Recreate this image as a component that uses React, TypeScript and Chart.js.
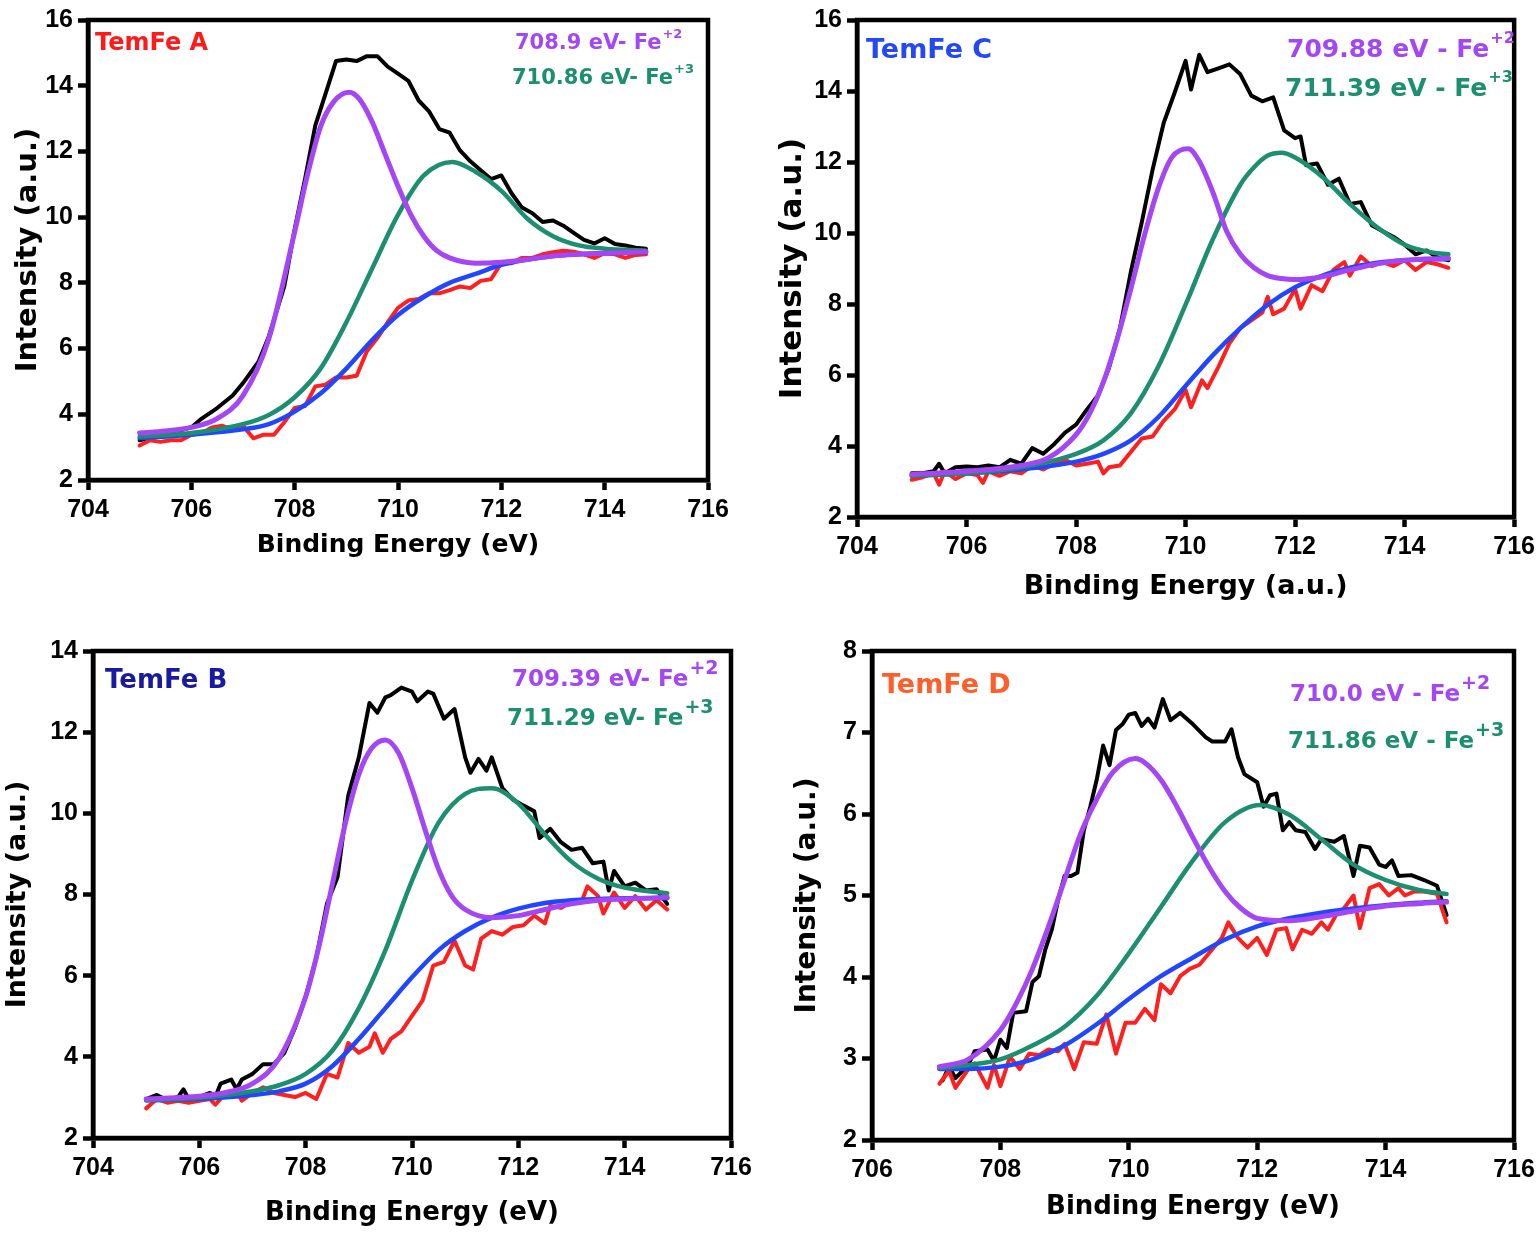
import React, { useEffect, useRef } from 'react';
import { Chart, registerables } from 'chart.js';

Chart.register(...registerables);

type Pt = [number, number];

// ---------- Panel A (TemFe A) ----------
const A_ENVELOPE: Pt[] = [[705.0,3.21],[705.5,3.38],[706.0,3.6],[706.2,3.87],[706.5,4.19],[706.8,4.57],[707.0,4.95],[707.3,5.6],[707.5,6.37],[707.8,7.9],[708.0,9.63],[708.2,11.16],[708.4,12.79],[708.6,13.77],[708.8,14.75],[709.0,14.8],[709.2,14.75],[709.4,14.9],[709.6,14.9],[709.8,14.58],[710.0,14.37],[710.2,14.15],[710.4,13.55],[710.6,13.22],[710.8,12.68],[711.0,12.57],[711.2,12.03],[711.4,11.7],[711.6,11.43],[711.8,11.16],[712.0,11.27],[712.2,10.72],[712.4,10.29],[712.6,10.12],[712.8,9.85],[713.0,9.9],[713.2,9.74],[713.4,9.52],[713.6,9.31],[713.8,9.2],[714.0,9.36],[714.2,9.18],[714.4,9.14],[714.6,9.07],[714.8,9.04]];
const A_RESIDUAL: Pt[] = [[705.0,3.05],[705.2,3.21],[705.4,3.16],[705.6,3.21],[705.8,3.21],[706.0,3.38],[706.2,3.43],[706.4,3.6],[706.6,3.65],[706.8,3.54],[707.0,3.65],[707.2,3.27],[707.4,3.38],[707.6,3.38],[707.8,3.76],[708.0,4.19],[708.2,4.25],[708.4,4.85],[708.6,4.9],[708.8,5.12],[709.0,5.12],[709.2,5.17],[709.4,5.93],[709.6,6.32],[709.8,6.8],[710.0,7.24],[710.2,7.46],[710.4,7.51],[710.6,7.68],[710.8,7.68],[711.0,7.78],[711.2,7.89],[711.4,7.84],[711.6,8.06],[711.8,8.11],[712.0,8.6],[712.2,8.6],[712.4,8.76],[712.6,8.76],[712.8,8.87],[713.0,8.93],[713.2,8.98],[713.4,8.95],[713.6,8.87],[713.8,8.76],[714.0,8.9],[714.2,8.87],[714.4,8.76],[714.6,8.85],[714.8,8.87]];
const A_BACKGROUND: Pt[] = [[705.0,3.27],[706.0,3.38],[707.0,3.54],[707.5,3.7],[708.0,4.08],[708.5,4.63],[709.0,5.39],[709.5,6.26],[710.0,7.02],[710.5,7.57],[711.0,8.0],[711.5,8.27],[712.0,8.55],[712.5,8.71],[713.0,8.82],[713.5,8.87],[714.0,8.9],[714.8,8.93]];
const A_FE2: Pt[] = [[705.0,3.43],[705.5,3.49],[706.0,3.6],[706.5,3.87],[707.0,4.57],[707.5,6.3],[708.0,9.55],[708.25,11.3],[708.5,12.75],[708.75,13.5],[709.05,13.8],[709.25,13.6],[709.5,12.9],[709.75,11.92],[710.0,10.94],[710.25,10.07],[710.5,9.42],[710.75,8.98],[711.0,8.76],[711.5,8.6],[712.0,8.63],[712.5,8.71],[713.0,8.82],[713.5,8.87],[714.0,8.9],[714.8,8.95]];
const A_FE3: Pt[] = [[705.0,3.32],[706.0,3.43],[707.0,3.7],[707.5,3.98],[708.0,4.52],[708.5,5.39],[709.0,6.8],[709.5,8.44],[710.0,10.07],[710.5,11.27],[711.05,11.68],[711.5,11.38],[712.0,10.8],[712.5,9.96],[713.0,9.42],[713.5,9.14],[714.0,9.04],[714.8,8.98]];

// ---------- Panel C (TemFe C) ----------
const C_ENVELOPE: Pt[] = [[705.0,3.23],[705.2,3.23],[705.4,3.29],[705.5,3.5],[705.6,3.23],[705.8,3.4],[706.0,3.42],[706.2,3.4],[706.4,3.45],[706.6,3.4],[706.8,3.61],[707.0,3.5],[707.2,3.94],[707.4,3.78],[707.6,4.05],[707.8,4.38],[708.0,4.6],[708.2,5.03],[708.4,5.42],[708.6,6.2],[708.8,7.3],[709.0,8.9],[709.2,10.3],[709.4,11.8],[709.6,13.1],[709.8,13.95],[710.0,14.85],[710.1,14.04],[710.25,15.02],[710.4,14.53],[710.6,14.64],[710.8,14.75],[711.0,14.47],[711.2,13.87],[711.4,13.71],[711.6,13.82],[711.8,12.89],[712.0,12.67],[712.1,12.72],[712.2,11.91],[712.4,11.96],[712.6,11.36],[712.8,11.53],[713.0,10.82],[713.2,10.87],[713.4,10.22],[713.6,10.05],[713.8,9.89],[714.0,9.67],[714.2,9.4],[714.4,9.51],[714.6,9.31],[714.8,9.23]];
const C_RESIDUAL: Pt[] = [[705.0,3.05],[705.2,3.12],[705.4,3.23],[705.5,2.91],[705.6,3.29],[705.8,3.07],[706.0,3.23],[706.2,3.18],[706.3,2.96],[706.4,3.29],[706.6,3.16],[706.8,3.29],[707.0,3.23],[707.2,3.45],[707.4,3.34],[707.6,3.5],[707.8,3.61],[708.0,3.45],[708.2,3.5],[708.4,3.56],[708.5,3.23],[708.6,3.4],[708.8,3.45],[709.0,3.83],[709.2,4.21],[709.4,4.27],[709.6,4.71],[709.8,5.03],[710.0,5.58],[710.1,5.09],[710.3,5.85],[710.4,5.63],[710.6,6.23],[710.8,6.89],[711.0,7.32],[711.2,7.54],[711.4,7.76],[711.5,8.2],[711.6,7.71],[711.8,7.87],[712.0,8.42],[712.1,7.87],[712.3,8.53],[712.5,8.36],[712.7,8.96],[712.9,9.18],[713.0,8.8],[713.2,9.34],[713.4,9.07],[713.6,9.18],[713.8,9.07],[714.0,9.23],[714.2,8.96],[714.4,9.18],[714.6,9.12],[714.8,9.02]];
const C_BACKGROUND: Pt[] = [[705.0,3.16],[706.0,3.23],[707.0,3.34],[708.0,3.56],[708.5,3.78],[709.0,4.16],[709.5,4.81],[710.0,5.69],[710.5,6.56],[711.0,7.32],[711.5,7.98],[712.0,8.47],[712.5,8.8],[713.0,9.02],[713.5,9.16],[714.0,9.23],[714.8,9.27]];
const C_FE2: Pt[] = [[705.0,3.2],[706.0,3.29],[707.0,3.45],[707.5,3.67],[708.0,4.32],[708.25,4.92],[708.5,5.8],[708.75,7.0],[709.0,8.42],[709.25,9.94],[709.5,11.25],[709.75,12.13],[710.05,12.37],[710.25,12.02],[710.5,11.14],[710.75,10.05],[711.0,9.4],[711.25,9.02],[711.5,8.8],[711.75,8.72],[712.0,8.69],[712.5,8.77],[713.0,8.96],[713.5,9.13],[714.0,9.23],[714.8,9.29]];
const C_FE3: Pt[] = [[705.0,3.16],[706.0,3.23],[707.0,3.4],[708.0,3.78],[708.5,4.16],[709.0,4.92],[709.5,6.23],[710.0,7.98],[710.5,9.83],[711.0,11.36],[711.25,11.85],[711.5,12.18],[711.75,12.26],[712.0,12.13],[712.5,11.58],[713.0,10.82],[713.5,10.16],[714.0,9.67],[714.5,9.45],[714.8,9.4]];

// ---------- Panel B (TemFe B) ----------
const B_ENVELOPE: Pt[] = [[705.0,2.96],[705.2,3.06],[705.4,2.93],[705.6,3.01],[705.7,3.2],[705.8,2.96],[706.0,3.01],[706.2,3.11],[706.3,3.01],[706.4,3.34],[706.6,3.44],[706.7,3.2],[706.8,3.44],[707.0,3.58],[707.2,3.82],[707.4,3.82],[707.6,4.1],[707.8,4.72],[708.0,5.48],[708.2,6.44],[708.4,7.77],[708.6,8.43],[708.8,10.43],[709.0,11.38],[709.2,12.72],[709.35,12.48],[709.5,12.86],[709.6,12.91],[709.8,13.1],[710.0,13.0],[710.1,12.76],[710.3,13.0],[710.4,12.95],[710.6,12.33],[710.8,12.57],[711.0,11.38],[711.1,11.0],[711.25,11.34],[711.4,11.05],[711.5,11.38],[711.7,10.62],[711.9,10.34],[712.1,10.19],[712.3,10.05],[712.4,9.39],[712.6,9.62],[712.8,9.29],[713.0,9.1],[713.2,9.15],[713.4,8.77],[713.6,8.81],[713.7,8.1],[713.8,8.58],[714.0,8.2],[714.2,8.29],[714.4,8.1],[714.6,8.13],[714.8,7.77]];
const B_RESIDUAL: Pt[] = [[705.0,2.73],[705.2,2.96],[705.4,2.87],[705.6,2.92],[705.8,2.87],[706.0,2.92],[706.2,2.96],[706.3,2.82],[706.5,3.11],[706.7,3.15],[706.8,2.92],[707.0,3.11],[707.2,3.25],[707.4,3.11],[707.6,3.06],[707.8,3.01],[708.0,3.11],[708.2,2.96],[708.4,3.58],[708.6,3.49],[708.8,4.34],[709.0,4.1],[709.2,4.25],[709.3,4.58],[709.45,4.1],[709.6,4.44],[709.8,4.63],[710.0,5.01],[710.2,5.39],[710.4,6.25],[710.6,6.34],[710.8,6.86],[711.0,6.25],[711.15,6.15],[711.3,6.91],[711.5,7.1],[711.7,7.01],[711.9,7.2],[712.1,7.24],[712.3,7.48],[712.5,7.29],[712.6,7.72],[712.8,7.67],[713.0,7.82],[713.2,7.86],[713.3,8.2],[713.5,7.96],[713.6,7.53],[713.8,8.05],[714.0,7.67],[714.2,7.96],[714.4,7.63],[714.6,7.86],[714.8,7.63]];
const B_BACKGROUND: Pt[] = [[705.0,2.93],[706.0,2.96],[707.0,3.06],[707.5,3.15],[708.0,3.34],[708.5,3.77],[709.0,4.44],[709.5,5.2],[710.0,5.96],[710.5,6.63],[711.0,7.1],[711.5,7.43],[712.0,7.65],[712.5,7.79],[713.0,7.86],[713.5,7.89],[714.0,7.91],[714.8,7.91]];
const B_FE2: Pt[] = [[705.0,2.96],[706.0,3.03],[706.5,3.12],[707.0,3.34],[707.5,3.96],[708.0,5.48],[708.25,6.72],[708.5,8.24],[708.75,9.77],[709.0,10.96],[709.25,11.62],[709.5,11.81],[709.75,11.48],[710.0,10.62],[710.25,9.58],[710.5,8.62],[710.75,7.96],[711.0,7.63],[711.5,7.43],[712.0,7.48],[712.5,7.63],[713.0,7.77],[713.5,7.86],[714.0,7.89],[714.8,7.93]];
const B_FE3: Pt[] = [[705.0,2.93],[706.0,2.99],[707.0,3.15],[707.5,3.3],[708.0,3.58],[708.5,4.15],[709.0,5.2],[709.5,6.63],[710.0,8.34],[710.5,9.77],[711.0,10.48],[711.5,10.62],[712.0,10.24],[712.5,9.48],[713.0,8.81],[713.5,8.39],[714.0,8.17],[714.8,8.03]];

// ---------- Panel D (TemFe D) ----------
const D_ENVELOPE: Pt[] = [[707.1,2.73],[707.2,2.9],[707.3,2.76],[707.5,2.92],[707.6,3.09],[707.8,3.11],[707.9,2.97],[708.0,3.23],[708.1,3.13],[708.2,3.56],[708.4,3.58],[708.5,3.94],[708.6,4.01],[708.7,4.34],[708.8,4.58],[708.9,4.95],[709.0,5.24],[709.1,5.24],[709.2,5.28],[709.3,5.8],[709.4,6.09],[709.5,6.42],[709.6,6.84],[709.7,6.6],[709.8,7.03],[709.9,7.1],[710.0,7.22],[710.1,7.24],[710.2,7.08],[710.3,7.17],[710.4,7.06],[710.53,7.41],[710.65,7.15],[710.8,7.24],[711.0,7.1],[711.2,6.94],[711.3,6.89],[711.5,6.89],[711.6,7.04],[711.7,6.7],[711.8,6.49],[712.0,6.39],[712.1,6.09],[712.2,6.23],[712.3,6.25],[712.4,5.8],[712.5,5.9],[712.6,5.8],[712.75,5.78],[712.9,5.57],[713.0,5.69],[713.2,5.66],[713.35,5.73],[713.5,5.24],[713.6,5.61],[713.75,5.59],[713.9,5.38],[714.0,5.35],[714.1,5.43],[714.2,5.24],[714.4,5.25],[714.6,5.19],[714.8,5.12],[714.95,4.76]];
const D_RESIDUAL: Pt[] = [[707.05,2.69],[707.2,2.85],[707.3,2.64],[707.5,2.87],[707.6,2.94],[707.8,2.64],[707.9,2.92],[708.0,2.66],[708.15,3.02],[708.3,2.87],[708.45,3.06],[708.6,3.04],[708.75,3.11],[708.9,3.09],[709.0,3.18],[709.15,2.87],[709.3,3.2],[709.5,3.18],[709.65,3.54],[709.8,3.06],[709.95,3.44],[710.1,3.44],[710.25,3.61],[710.4,3.47],[710.5,3.91],[710.65,3.8],[710.8,4.01],[710.95,4.1],[711.1,4.15],[711.3,4.34],[711.45,4.48],[711.55,4.67],[711.7,4.48],[711.85,4.36],[712.0,4.48],[712.15,4.27],[712.3,4.58],[712.45,4.6],[712.55,4.34],[712.7,4.58],[712.85,4.53],[713.0,4.67],[713.1,4.58],[713.25,4.79],[713.35,4.84],[713.5,5.0],[713.6,4.6],[713.75,5.09],[713.9,5.14],[714.05,5.0],[714.2,5.09],[714.3,5.0],[714.45,5.05],[714.6,5.05],[714.8,5.02],[714.95,4.67]];
const D_BACKGROUND: Pt[] = [[707.05,2.87],[707.5,2.87],[708.0,2.9],[708.5,2.99],[709.0,3.16],[709.5,3.42],[710.0,3.73],[710.5,4.01],[711.0,4.24],[711.5,4.46],[712.0,4.62],[712.5,4.72],[713.0,4.79],[713.5,4.84],[714.0,4.88],[714.5,4.91],[714.95,4.93]];
const D_FE2: Pt[] = [[707.05,2.9],[707.5,2.99],[708.0,3.35],[708.25,3.68],[708.5,4.1],[708.75,4.62],[709.0,5.19],[709.25,5.76],[709.5,6.18],[709.75,6.51],[710.1,6.68],[710.25,6.63],[710.5,6.42],[710.75,6.09],[711.0,5.71],[711.25,5.35],[711.5,5.05],[711.75,4.84],[712.0,4.72],[712.5,4.69],[713.0,4.74],[713.5,4.81],[714.0,4.87],[714.5,4.9],[714.95,4.92]];
const D_FE3: Pt[] = [[707.05,2.88],[707.5,2.92],[708.0,2.99],[708.5,3.16],[709.0,3.39],[709.5,3.77],[710.0,4.29],[710.5,4.86],[711.0,5.43],[711.5,5.9],[712.05,6.11],[712.5,5.99],[713.0,5.69],[713.5,5.38],[714.0,5.19],[714.5,5.07],[714.95,5.02]];

// axis ranges / tick steps
const A_X = [704, 716, 2]; const A_Y = [2, 16, 2];
const C_X = [704, 716, 2]; const C_Y = [2, 16, 2];
const B_X = [704, 716, 2]; const B_Y = [2, 14, 2];
const D_X = [706, 716, 2]; const D_Y = [2, 8, 1];

const X_TITLE_EV = 'Binding Energy (eV)';
const X_TITLE_AU = 'Binding Energy (a.u.)';
const Y_TITLE = 'Intensity (a.u.)';

const COL = {
  env: '#000000',
  res: '#ff1f1f',
  bg: '#2146ff',
  fe2: '#a446f6',
  fe3: '#1b8f70',
};

const TITLE_FONT = '"DejaVu Sans", sans-serif';
const TICK_FONT = '"Liberation Sans", Arial, sans-serif';

type Label = { text: string; sup?: string; x: number; cy: number; color: string; size: number; supSize?: number };

type PanelCfg = {
  box: { x: number; y: number; w: number; h: number };
  area: { l: number; t: number; r: number; b: number }; // page coords of plot area
  xr: number[]; yr: number[];
  xTitle: string; xSize: number; xCenter: number;
  ySize: number; yCenter: number;
  series: { env: Pt[]; res: Pt[]; bg: Pt[]; fe2: Pt[]; fe3: Pt[] };
  labels: Label[];
};

const PANELS: PanelCfg[] = [
  {
    box: { x: 0, y: 0, w: 770, h: 575 },
    area: { l: 88, t: 15, r: 708, b: 480 },
    xr: A_X, yr: A_Y, xTitle: X_TITLE_EV, xSize: 25, xCenter: 545, ySize: 29, yCenter: 28,
    series: { env: A_ENVELOPE, res: A_RESIDUAL, bg: A_BACKGROUND, fe2: A_FE2, fe3: A_FE3 },
    labels: [
      { text: 'TemFe A', x: 95, cy: 42, color: '#ff1a1a', size: 24 },
      { text: '708.9 eV- Fe', sup: '+2', x: 515, cy: 43, color: COL.fe2, size: 21, supSize: 13 },
      { text: '710.86 eV- Fe', sup: '+3', x: 512, cy: 78, color: COL.fe3, size: 21, supSize: 13 },
    ],
  },
  {
    box: { x: 770, y: 0, w: 770, h: 610 },
    area: { l: 857, t: 17, r: 1519, b: 517 },
    xr: C_X, yr: C_Y, xTitle: X_TITLE_AU, xSize: 27, xCenter: 587, ySize: 31, yCenter: 793,
    series: { env: C_ENVELOPE, res: C_RESIDUAL, bg: C_BACKGROUND, fe2: C_FE2, fe3: C_FE3 },
    labels: [
      { text: 'TemFe C', x: 866, cy: 49, color: '#2448f5', size: 27 },
      { text: '709.88 eV - Fe', sup: '+2', x: 1287, cy: 49, color: COL.fe2, size: 25, supSize: 16 },
      { text: '711.39 eV - Fe', sup: '+3', x: 1285, cy: 88, color: COL.fe3, size: 25, supSize: 16 },
    ],
  },
  {
    box: { x: 0, y: 610, w: 770, h: 625 },
    area: { l: 93, t: 651, r: 731, b: 1138 },
    xr: B_X, yr: B_Y, xTitle: X_TITLE_EV, xSize: 26, xCenter: 1213, ySize: 27, yCenter: 18,
    series: { env: B_ENVELOPE, res: B_RESIDUAL, bg: B_BACKGROUND, fe2: B_FE2, fe3: B_FE3 },
    labels: [
      { text: 'TemFe B', x: 105, cy: 680, color: '#1a1aa0', size: 26 },
      { text: '709.39 eV- Fe', sup: '+2', x: 512, cy: 679, color: COL.fe2, size: 23, supSize: 19 },
      { text: '711.29 eV- Fe', sup: '+3', x: 507, cy: 718, color: COL.fe3, size: 23, supSize: 19 },
    ],
  },
  {
    box: { x: 770, y: 610, w: 770, h: 625 },
    area: { l: 872, t: 651, r: 1514, b: 1140 },
    xr: D_X, yr: D_Y, xTitle: X_TITLE_EV, xSize: 26, xCenter: 1207, ySize: 28, yCenter: 808,
    series: { env: D_ENVELOPE, res: D_RESIDUAL, bg: D_BACKGROUND, fe2: D_FE2, fe3: D_FE3 },
    labels: [
      { text: 'TemFe D', x: 882, cy: 684, color: '#ff5e2a', size: 27 },
      { text: '710.0 eV - Fe', sup: '+2', x: 1290, cy: 694, color: COL.fe2, size: 23, supSize: 19 },
      { text: '711.86 eV - Fe', sup: '+3', x: 1288, cy: 741, color: COL.fe3, size: 23, supSize: 19 },
    ],
  },
];

const framePlugin = {
  id: 'frameBox',
  afterDatasetsDraw(chart: any) {
    const { ctx, chartArea } = chart;
    const { left, top, right, bottom } = chartArea;
    ctx.save();
    ctx.strokeStyle = '#000';
    ctx.lineWidth = 4.5;
    ctx.strokeRect(left, top, right - left, bottom - top);
    ctx.restore();
  },
};

function toXY(p: Pt[]) {
  return p.map(([x, y]) => ({ x, y }));
}

function Panel({ cfg }: { cfg: PanelCfg }) {
  const ref = useRef<HTMLCanvasElement>(null);
  useEffect(() => {
    const { box, area } = cfg;
    const yAxisW = area.l - box.x;
    const padTop = area.t - box.y;
    const padRight = box.x + box.w - area.r;
    const xAxisH = box.y + box.h - area.b;
    const xLH = cfg.xSize * 1.2;
    const yLH = cfg.ySize * 1.2;
    const xTitlePad = (box.y + box.h - cfg.xCenter) - xLH / 2;
    const yTitlePad = (cfg.yCenter - box.x) - yLH / 2;

    const line = (data: Pt[], color: string, width: number, smooth: boolean) => ({
      data: toXY(data),
      borderColor: color,
      backgroundColor: color,
      borderWidth: width,
      pointRadius: 0,
      fill: false,
      tension: 0,
      cubicInterpolationMode: smooth ? ('monotone' as const) : ('default' as const),
      borderJoinStyle: 'round' as const,
      borderCapStyle: 'round' as const,
    });

    const s = cfg.series;
    const chart = new Chart(ref.current!, {
      type: 'line',
      data: {
        datasets: [
          line(s.fe2, COL.fe2, 5, true),
          line(s.fe3, COL.fe3, 4.5, true),
          line(s.bg, COL.bg, 4.5, true),
          line(s.res, COL.res, 4, false),
          line(s.env, COL.env, 4, false),
        ] as any,
      },
      options: {
        animation: false,
        responsive: false,
        maintainAspectRatio: false,
        devicePixelRatio: 1,
        layout: { padding: { left: 0, top: padTop, right: padRight, bottom: 0 } },
        plugins: { legend: { display: false }, tooltip: { enabled: false }, title: { display: false } },
        scales: {
          x: {
            type: 'linear',
            min: cfg.xr[0],
            max: cfg.xr[1],
            afterFit: (sc: any) => { sc.height = xAxisH; },
            ticks: {
              stepSize: cfg.xr[2],
              autoSkip: false,
              maxRotation: 0,
              padding: 5,
              color: '#000',
              font: { family: TICK_FONT, size: 25, weight: 'bold' },
            },
            grid: { display: true, drawOnChartArea: false, drawTicks: true, tickLength: 10, tickWidth: 4.5, tickColor: '#000' },
            border: { display: true, width: 4.5, color: '#000' },
            title: {
              display: true,
              text: cfg.xTitle,
              color: '#000',
              font: { family: TITLE_FONT, size: cfg.xSize, weight: 'bold' },
              padding: { top: 0, bottom: xTitlePad },
            },
          },
          y: {
            type: 'linear',
            min: cfg.yr[0],
            max: cfg.yr[1],
            afterFit: (sc: any) => { sc.width = yAxisW; },
            ticks: {
              stepSize: cfg.yr[2],
              autoSkip: false,
              padding: 5,
              color: '#000',
              font: { family: TICK_FONT, size: 25, weight: 'bold' },
            },
            grid: { display: true, drawOnChartArea: false, drawTicks: true, tickLength: 10, tickWidth: 4.5, tickColor: '#000' },
            border: { display: true, width: 4.5, color: '#000' },
            title: {
              display: true,
              text: Y_TITLE,
              color: '#000',
              font: { family: TITLE_FONT, size: cfg.ySize, weight: 'bold' },
              padding: { top: yTitlePad, bottom: 0 },
            },
          },
        },
      } as any,
      plugins: [framePlugin],
    });
    return () => chart.destroy();
  }, [cfg]);

  return (
    <div style={{ position: 'absolute', left: cfg.box.x, top: cfg.box.y, width: cfg.box.w, height: cfg.box.h }}>
      <canvas ref={ref} width={cfg.box.w} height={cfg.box.h} style={{ display: 'block', width: cfg.box.w, height: cfg.box.h }} />
      {cfg.labels.map((lb, i) => (
        <div
          key={i}
          style={{
            position: 'absolute',
            left: lb.x - cfg.box.x,
            top: lb.cy - cfg.box.y - lb.size * 0.6,
            fontFamily: TITLE_FONT,
            fontWeight: 'bold',
            fontSize: lb.size,
            lineHeight: 1.2,
            color: lb.color,
            whiteSpace: 'nowrap',
          }}
        >
          {lb.text}
          {lb.sup ? (
            <span style={{ fontSize: lb.supSize, position: 'relative', top: -lb.size * 0.55, marginLeft: 1 }}>{lb.sup}</span>
          ) : null}
        </div>
      ))}
    </div>
  );
}

export default function App() {
  return (
    <div style={{ position: 'absolute', left: 0, top: 0, width: 1540, height: 1235, background: '#fff', overflow: 'hidden' }}>
      {PANELS.map((p, i) => (
        <Panel key={i} cfg={p} />
      ))}
    </div>
  );
}
